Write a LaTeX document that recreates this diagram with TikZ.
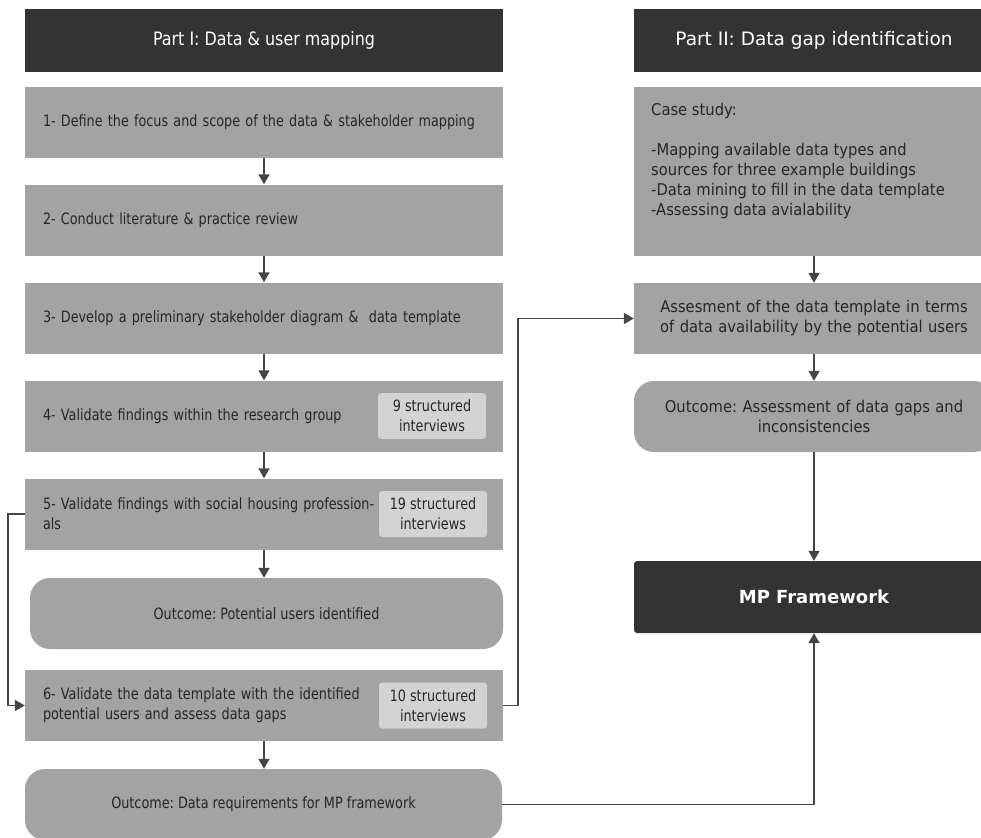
\documentclass[tikz,border=0pt]{standalone}
\usepackage{fontspec}
\setmainfont{DejaVu Sans}
\newfontfamily\condfont[FakeStretch=0.82]{DejaVu Sans}
\newfontfamily\headfont[FakeStretch=0.86]{DejaVu Sans}
\newfontfamily\rightfont[FakeStretch=0.91]{DejaVu Sans}
\usetikzlibrary{positioning, arrows.meta}
\frenchspacing
\definecolor{headgrey}{HTML}{333333}
\definecolor{boxgrey}{HTML}{A3A3A3}
\definecolor{badgegrey}{HTML}{D3D3D3}
\definecolor{textgrey}{HTML}{262626}
\definecolor{linegrey}{HTML}{454545}
\newcommand\condbody{\condfont\fontsize{15.6}{20}\selectfont}
\newcommand\rightbody{\rightfont\fontsize{16.2}{20}\selectfont}
\newcommand\headsize{\fontsize{18.5}{22}\selectfont}
\tikzset{
    part head/.style={fill=headgrey, text=white, minimum width=478pt, minimum height=63pt, inner sep=0pt},
    grey box/.style={fill=boxgrey, text=textgrey, inner sep=0pt},
    step box/.style={grey box, minimum width=478pt, minimum height=71pt, text width=442pt, align=left, font=\condbody},
    right box/.style={grey box, minimum width=360pt, minimum height=71pt, text width=340pt, align=center, font=\rightbody},
    badge box/.style={fill=badgegrey, text=textgrey, rounded corners=3pt, minimum width=108pt, minimum height=46pt, inner sep=0pt, align=center, font=\condbody},
    outcome box/.style={grey box, rounded corners=20pt, minimum width=477pt, minimum height=71pt, align=center, font=\condbody},
    flow arrow/.style={draw=linegrey, line width=1.6pt, -{Triangle[width=11pt,length=10pt]}},
}
\begin{document}
\begin{tikzpicture}[x=1pt, y=-1pt]
\useasboundingbox (0,0) rectangle (981,837);
\clip (0,0) rectangle (981,837);

% Part I
\node[part head, font=\headfont\headsize] (head one) at (264,40.5) {Part I: Data \& user mapping};
\node[step box] (s1) at (264,122.5) {1- Define the focus and scope of the data \& stakeholder mapping};
\node[step box] (s2) at (264,220) {2- Conduct literature \& practice review};
\node[step box] (s3) at (264,318) {3- Develop a preliminary stakeholder diagram \&~~data template};
\node[step box] (s4) at (264,416) {4- Validate findings within the research group};
\node[badge box] (b4) at (432,416) {9 structured\\interviews};
\node[step box] (s5) at (264,514) {5- Validate findings with social housing profession-\\als};
\node[badge box] (b5) at (433,514) {19 structured\\interviews};
\node[outcome box, minimum width=473pt] (o1) at (266.5,613.5) {Outcome: Potential users identified};
\node[step box] (s6) at (264,705.5) {6- Validate the data template with the identified\\potential users and assess data gaps};
\node[badge box] (b6) at (433,705.5) {10 structured\\interviews};
\node[outcome box] (o2) at (263.5,804.5) {Outcome: Data requirements for MP framework};

% Part II
\node[part head, minimum width=360pt, font=\headsize] (head two) at (814,40.5) {Part II: Data gap identification};
\node[grey box, minimum width=360pt, minimum height=169pt] (case) at (814,171.5) {};
\node[anchor=north west, align=left, inner sep=0pt, text=textgrey, font=\rightbody] (case text) at (651,103) {Case study:\\[20pt]-Mapping available data types and\\sources for three example buildings\\-Data mining to fill in the data template\\-Assessing data avialability};
\node[right box] (asmt) at (814,318.5) {Assesment of the data template in terms\\of data availability by the potential users};
\node[right box, rounded corners=20pt] (o3) at (814,416.5) {Outcome: Assessment of data gaps and\\inconsistencies};
\node[part head, minimum width=360pt, minimum height=72pt, rounded corners=3pt, font=\bfseries\fontsize{18}{22}\selectfont] (mp) at (814,597) {MP Framework};

\foreach \a/\b in {s1/s2, s2/s3, s3/s4, s4/s5, s5/o1, s6/o2, case/asmt, asmt/o3, o3/mp}
    \draw[flow arrow] (\a.south) -- (\a.south |- \b.north);

\draw[flow arrow] (s5.west) -- ++(-17,0) |- (s6.west);
\draw[flow arrow] (s6.east) -- ++(15,0) |- (asmt.west);
\draw[flow arrow] (o2.east) -| (mp.south);

\end{tikzpicture}
\end{document}
